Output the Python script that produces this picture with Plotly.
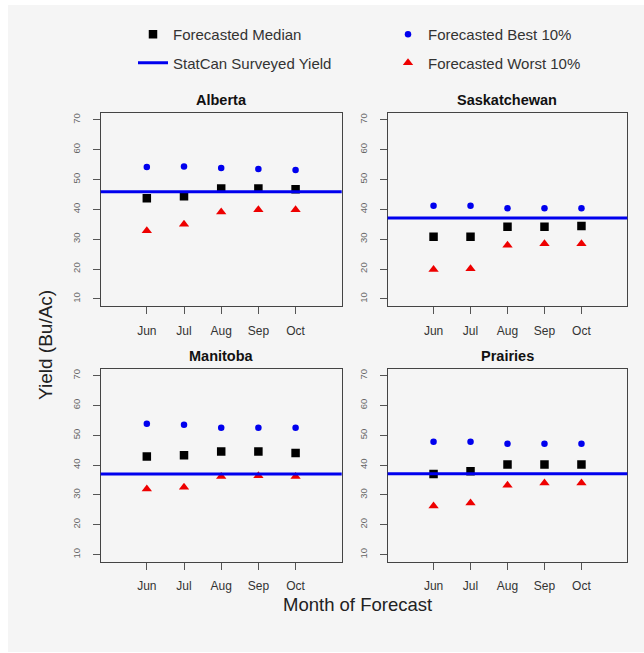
import plotly.graph_objects as go

months = ["Jun", "Jul", "Aug", "Sep", "Oct"]
month_pos = [1, 2, 3, 4, 5]
regions = ["Alberta", "Saskatchewan", "Manitoba", "Prairies"]

median_ab = [43.7, 44.4, 47.0, 47.0, 46.7]
median_sk = [30.8, 30.8, 34.2, 34.2, 34.4]
median_mb = [42.9, 43.3, 44.6, 44.6, 44.1]
median_pr = [37.0, 37.9, 40.2, 40.2, 40.2]

best_ab = [54.2, 54.4, 53.9, 53.5, 53.2]
best_sk = [41.2, 41.2, 40.4, 40.4, 40.4]
best_mb = [53.9, 53.5, 52.5, 52.5, 52.5]
best_pr = [47.8, 47.8, 47.2, 47.2, 47.2]

worst_ab = [32.8, 35.0, 39.1, 39.9, 39.9]
worst_sk = [19.8, 20.1, 28.0, 28.5, 28.5]
worst_mb = [32.0, 32.6, 36.2, 36.4, 36.2]
worst_pr = [26.3, 27.3, 33.2, 34.0, 34.0]

surveyed = [45.9, 37.1, 37.0, 37.1]

y_ticks = [10, 20, 30, 40, 50, 60, 70]

medians = [median_ab, median_sk, median_mb, median_pr]
bests = [best_ab, best_sk, best_mb, best_pr]
worsts = [worst_ab, worst_sk, worst_mb, worst_pr]

W, H = 644, 653
BLUE = "#0000ee"
RED = "#ee0000"
FONT = "Liberation Sans, Arial, sans-serif"

# panel boxes in pixels: (left, right, top, bottom)
boxes = [
    (100.7, 341.7, 112.7, 306.0),
    (387.7, 627.3, 112.7, 306.0),
    (100.7, 341.7, 368.5, 561.7),
    (387.7, 627.3, 368.5, 561.7),
]

fig = go.Figure()
layout = dict(
    width=W, height=H, autosize=False,
    margin=dict(l=0, r=0, t=0, b=0),
    paper_bgcolor="white",
    plot_bgcolor="rgba(0,0,0,0)",
    font=dict(family=FONT, color="#333"),
    showlegend=True,
)
shapes = [dict(type="rect", xref="paper", yref="paper",
               x0=8 / W, x1=1, y0=1 / H, y1=1 - 5 / H,
               fillcolor="#f5f5f5", line=dict(width=0), layer="below")]
annotations = []

for i, reg in enumerate(regions):
    n = "" if i == 0 else str(i + 1)
    xa, ya = "x" + n, "y" + n
    l, r, t, b = boxes[i]
    layout["xaxis" + n] = dict(
        domain=[l / W, r / W], range=[-0.24, 6.24],
        tickvals=month_pos, ticktext=months,
        ticks="outside", ticklen=7, tickwidth=1, tickcolor="#555",
        tickfont=dict(size=12, color="#333"),
        ticklabelstandoff=6,
        showline=True, mirror=True, linecolor="#444", linewidth=1.3,
        showgrid=False, zeroline=False, anchor=ya, fixedrange=True,
    )
    layout["yaxis" + n] = dict(
        domain=[1 - b / H, 1 - t / H], range=[7.6, 72.4],
        tickvals=y_ticks, ticks="outside", ticklen=7, tickwidth=1,
        tickcolor="#555", tickangle=-90,
        tickfont=dict(size=9.5, color="#666"),
        ticklabelstandoff=9,
        showline=True, mirror=True, linecolor="#444", linewidth=1.3,
        showgrid=False, zeroline=False, anchor=xa, fixedrange=True,
    )
    first = i == 0
    fig.add_trace(go.Scatter(
        x=month_pos, y=medians[i], mode="markers", xaxis=xa, yaxis=ya,
        marker=dict(symbol="square", size=8.5, color="black"),
        name="Forecasted Median", legend="legend", legendgroup="a",
        showlegend=first))
    fig.add_trace(go.Scatter(
        x=month_pos, y=bests[i], mode="markers", xaxis=xa, yaxis=ya,
        marker=dict(symbol="circle", size=6.5, color=BLUE),
        name="Forecasted Best 10%", legend="legend2", legendgroup="c",
        showlegend=first))
    fig.add_trace(go.Scatter(
        x=month_pos, y=worsts[i], mode="markers", xaxis=xa, yaxis=ya,
        marker=dict(symbol="triangle-up", size=9, color=RED),
        name="Forecasted Worst 10%", legend="legend2", legendgroup="d",
        showlegend=first))
    shapes.append(dict(type="line", xref=xa + " domain", yref=ya,
                       x0=0, x1=1, y0=surveyed[i], y1=surveyed[i],
                       line=dict(color=BLUE, width=3), layer="above"))
    annotations.append(dict(
        text="<b>%s</b>" % reg, xref="paper", yref="paper",
        x=(l + r) / 2 / W, y=1 - (t - 13) / H,
        xanchor="center", yanchor="middle", showarrow=False,
        font=dict(size=14.5, color="#111", family=FONT)))

# legend entry for the surveyed-yield line
fig.add_trace(go.Scatter(
    x=[None], y=[None], mode="lines", line=dict(color=BLUE, width=3),
    name="StatCan Surveyed Yield", legend="legend", legendgroup="b",
    showlegend=True))

annotations.append(dict(text="Month of Forecast", xref="paper", yref="paper",
                        x=357.5 / W, y=1 - 604 / H, xanchor="center",
                        yanchor="middle", showarrow=False,
                        font=dict(size=18.5, color="#222", family=FONT)))
annotations.append(dict(text="Yield (Bu/Ac)", xref="paper", yref="paper",
                        x=45 / W, y=1 - 345 / H, xanchor="center",
                        yanchor="middle", showarrow=False, textangle=-90,
                        font=dict(size=19, color="#222", family=FONT)))

leg_common = dict(xanchor="left", yanchor="top", bgcolor="rgba(0,0,0,0)",
                  borderwidth=0, font=dict(size=15, color="#333", family=FONT),
                  tracegroupgap=6, traceorder="grouped", orientation="v")
layout["legend"] = dict(x=133 / W, y=1 - 18 / H, **leg_common)
layout["legend2"] = dict(x=388 / W, y=1 - 18 / H, **leg_common)
layout["shapes"] = shapes
layout["annotations"] = annotations
fig.update_layout(**layout)
fig.write_html("out.html")
